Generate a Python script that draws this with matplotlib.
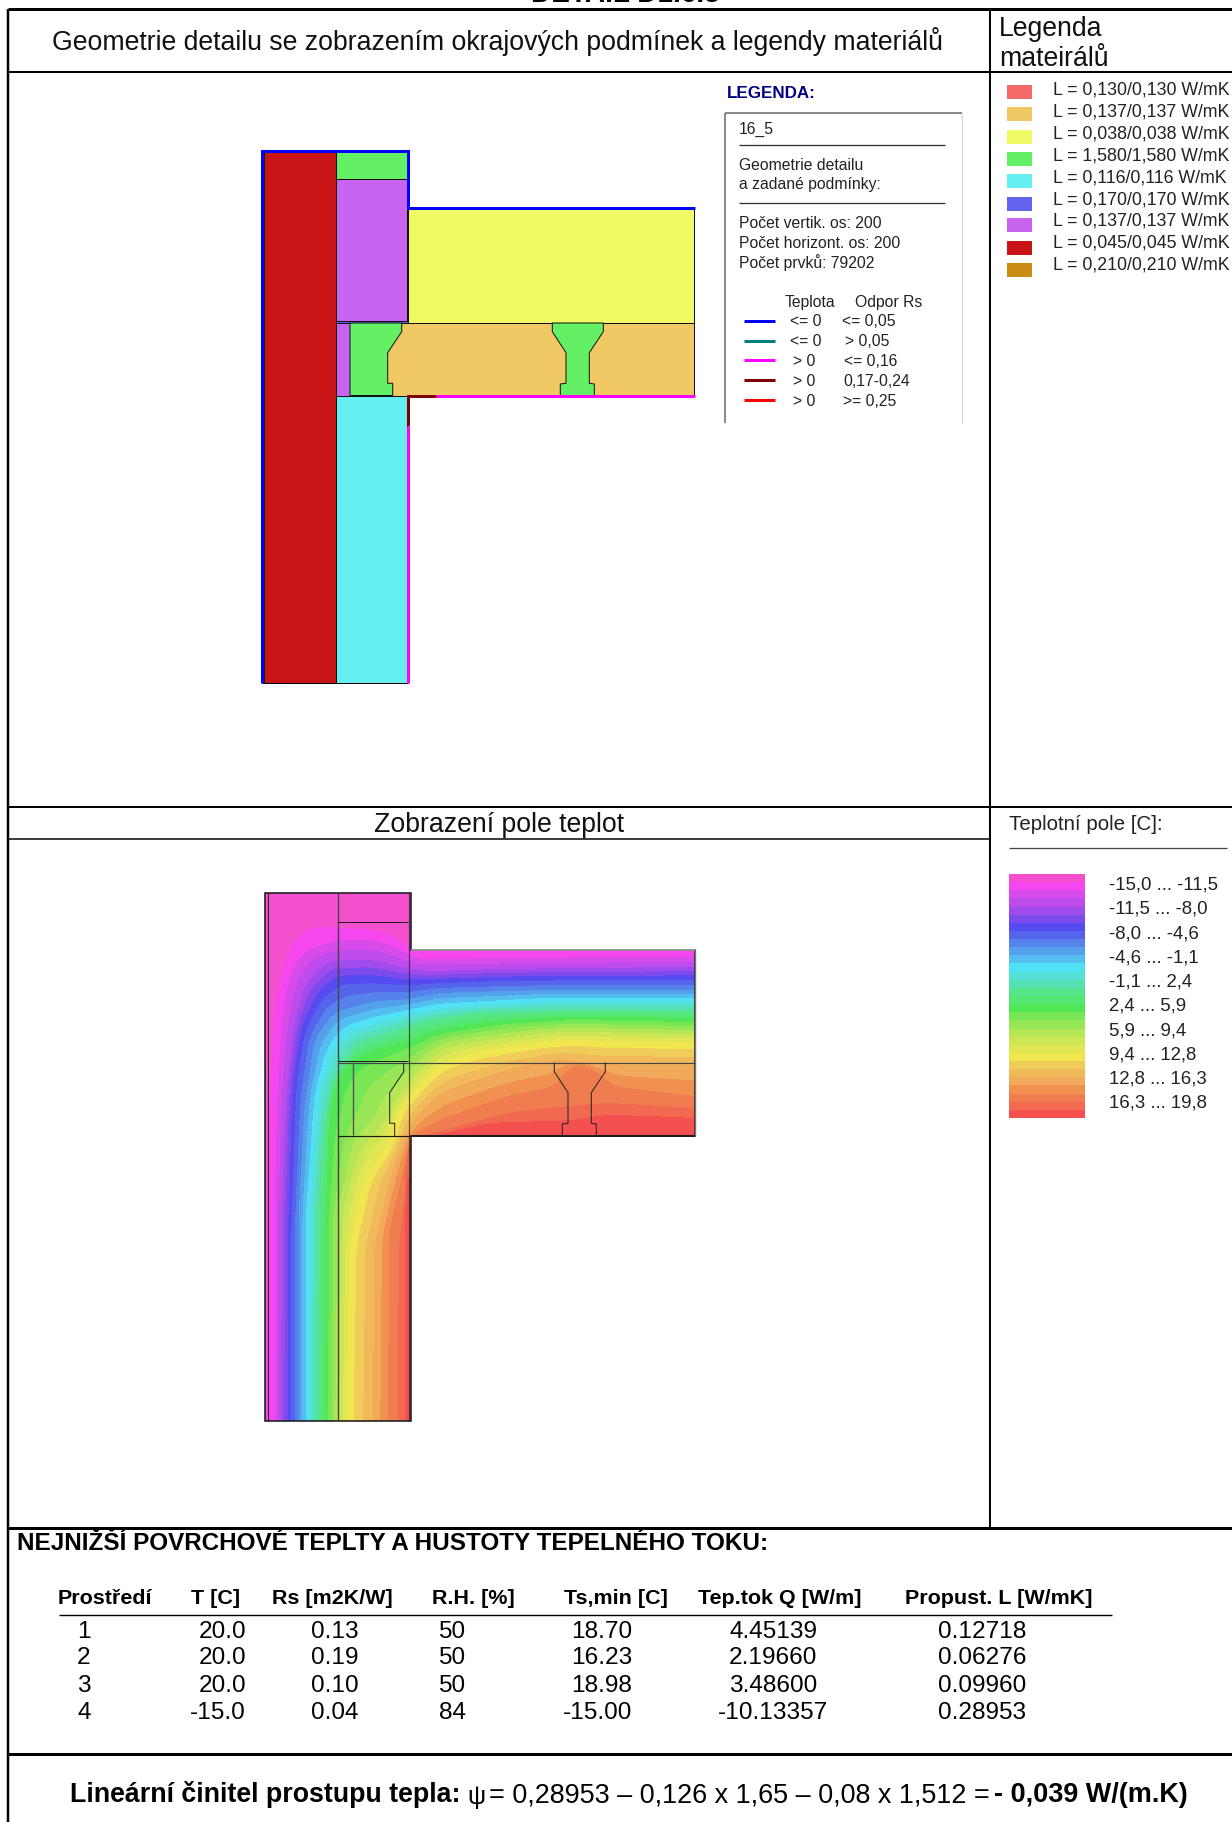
import numpy as np
import matplotlib
matplotlib.use("Agg")
import matplotlib.pyplot as plt
from matplotlib.patches import Polygon, Rectangle
from matplotlib.tri import Triangulation

plt.rcParams['font.family'] = ['Liberation Sans', 'DejaVu Sans']

W, H = 1232, 1822

# ---------- text content ----------
top_clip = "DETAIL D1.6.5"
title_geom = "Geometrie detailu se zobrazením okrajových podmínek a legendy materiálů"
title_mat = ["Legenda", "mateirálů"]
title_field = "Zobrazení pole teplot"
title_scale = "Teplotní pole [C]:"
mat_labels = ["L = 0,130/0,130 W/mK", "L = 0,137/0,137 W/mK", "L = 0,038/0,038 W/mK",
              "L = 1,580/1,580 W/mK", "L = 0,116/0,116 W/mK", "L = 0,170/0,170 W/mK",
              "L = 0,137/0,137 W/mK", "L = 0,045/0,045 W/mK", "L = 0,210/0,210 W/mK"]
mat_colors = ["#f56969", "#f0c864", "#f0fa64", "#64f064", "#64f0f0",
              "#6464f0", "#c864f0", "#c81414", "#c88c14"]
scale_labels = ["-15,0 ... -11,5", "-11,5 ... -8,0", "-8,0 ... -4,6", "-4,6 ... -1,1", "-1,1 ... 2,4",
                "2,4 ... 5,9", "5,9 ... 9,4", "9,4 ... 12,8", "12,8 ... 16,3", "16,3 ... 19,8"]
band_colors = [(243,80,205),(245,70,240),(215,75,235),(190,75,235),(160,75,235),(125,75,235),
               (85,75,240),(85,100,235),(85,130,235),(85,160,235),(85,190,240),(80,225,245),
               (85,225,215),(85,225,180),(85,230,140),(85,230,115),(80,230,85),(120,230,85),
               (150,230,85),(180,230,85),(205,230,85),(225,230,85),(240,230,80),(240,205,90),
               (240,185,90),(240,170,90),(240,145,80),(240,125,80),(240,105,80),(245,80,80)]
band_colors = [tuple(c/255 for c in b) for b in band_colors]

legend_info = ["Počet vertik. os: 200", "Počet horizont. os: 200", "Počet prvků: 79202"]
bc_colors = ["#0000ff", "#008080", "#ff00ff", "#800000", "#ff0000"]
bc_temp = ["<= 0", "<= 0", "> 0", "> 0", "> 0"]
bc_rs = ["<= 0,05", "> 0,05", "<= 0,16", "0,17-0,24", ">= 0,25"]

table_title = "NEJNIŽŠÍ POVRCHOVÉ TEPLTY A HUSTOTY TEPELNÉHO TOKU:"
headers = ["Prostředí", "T [C]", "Rs [m2K/W]", "R.H. [%]", "Ts,min [C]", "Tep.tok Q [W/m]", "Propust. L [W/mK]"]
env = ["1", "2", "3", "4"]
temp_c = ["20.0", "20.0", "20.0", "-15.0"]
rs = ["0.13", "0.19", "0.10", "0.04"]
rh = ["50", "50", "50", "84"]
ts_min = ["18.70", "16.23", "18.98", "-15.00"]
q_flow = ["4.45139", "2.19660", "3.48600", "-10.13357"]
prop_l = ["0.12718", "0.06276", "0.09960", "0.28953"]

# ---------- geometry of the detail (picture pixels) ----------
red_wall = [(264,152),(335.5,152),(335.5,683),(264,683)]
green_top = [(335.5,152),(407,152),(407,179),(335.5,179)]
purple_up = [(335.5,179),(407,179),(407,321),(335.5,321)]
blue_strip = [(335.5,321),(408,321),(408,323),(335.5,323)]
yellow_ins = [(408,209),(694,209),(694,323),(408,323)]
orange_floor = [(335.5,323),(694,323),(694,395.5),(335.5,395.5)]
purple_low = [(335.5,323),(350,323),(350,395.5),(335.5,395.5)]
green_low = [(350,323),(401.7,323),(401.7,331.7),(387.7,352.7),(387.7,383.3),(392.7,383.3),(392.7,395.5),(350,395.5)]
green_ibeam = [(552.3,323),(552.3,331.7),(566,352.7),(566,383.3),(560.3,384),(560.3,395.5),(594.3,395.5),
               (594.3,384),(589.3,383.3),(589.3,352.7),(603.3,331.7),(603.3,323)]
cyan_low = [(335.5,395.5),(407,395.5),(407,683),(335.5,683)]
blue_bc = [(262,683),(262,151),(408,151),(408,208),(695,208)]
darkred_bc = [(436,396),(408,396),(408,426)]
magenta_bc_a = [(436,396),(695,396)]
magenta_bc_b = [(408,426),(408,683)]

# outline of the field drawing
field_outline = [(265,893),(411,893),(411,950),(695,950),(695,1136),(411,1136),(411,1421),(265,1421)]

# ---------- temperature field: isotherms ----------
# band level, then (x, y) offsets in zoom units (3 per pixel), origin 240, 880
iso_levels = [0, 1, 2, 4, 6.6, 9, 11.5, 14, 16.4, 19.5, 22.4, 25, 27, 28, 29, 30]
iso_lines = [
 [(60,1620),(60,20),(530,20),(530,190),(1362,190)],
 [(80,1620),(82,1000),(88,700),(105,400),(125,280),(160,190),(220,140),(300,145),(400,150),(470,175),(505,205),(560,215),(800,215),(1362,215)],
 [(105,1620),(105,1000),(115,600),(130,400),(150,290),(190,215),(300,180),(400,180),(480,210),(530,240),(800,235),(1362,232)],
 [(125,1620),(127,1000),(140,650),(165,420),(200,310),(260,245),(400,240),(490,265),(560,275),(800,268),(1362,262)],
 [(150,1620),(150,1100),(165,620),(190,450),(240,350),(300,300),(400,300),(500,310),(600,305),(800,298),(1362,295)],
 [(178,1620),(178,1000),(195,680),(225,480),(280,400),(400,365),(500,360),(600,340),(900,332),(1362,330)],
 [(203,1620),(205,1000),(232,640),(270,510),(320,450),(400,425),(500,400),(600,380),(900,362),(1362,362)],
 [(232,1620),(235,1000),(255,720),(285,590),(350,490),(450,460),(550,425),(700,400),(1000,390),(1362,392)],
 [(258,1620),(262,1000),(270,760),(285,620),(330,550),(400,520),(510,490),(600,455),(800,425),(1000,415),(1362,420)],
 [(293,1620),(300,1000),(350,800),(430,720),(470,650),(510,590),(600,500),(700,480),(900,455),(1000,450),(1362,458)],
 [(325,1620),(335,1100),(380,900),(420,850),(460,790),(480,700),(520,650),(600,560),(700,525),(900,495),(1000,485),(1100,490),(1362,495)],
 [(400,1620),(405,1100),(450,900),(490,790),(520,720),(600,640),(800,570),(950,540),(1100,555),(1362,555)],
 [(445,1620),(450,1050),(490,880),(512,770),(600,720),(800,650),(950,620),(980,570),(1020,552),(1060,570),(1120,620),(1362,650)],
 [(475,1620),(478,1100),(500,900),(525,775),(640,745),(800,700),(980,680),(1100,670),(1362,685)],
 [(495,1620),(495,1050),(505,800),(600,765),(750,730),(1000,722),(1100,705),(1362,715)],
 [(530,1620),(530,790),(1362,790)],
]

# ---------- helpers ----------
fig = plt.figure(figsize=(W/100, H/100), dpi=100)
ax = fig.add_axes([0, 0, 1, 1])
ax.set_xlim(0, W); ax.set_ylim(H, 0); ax.axis('off')

def px(n):
    return n * 0.72

def T(x, y, s, size, ha='left', va='center', color='#111111', **kw):
    return ax.text(x, y, s, fontsize=px(size), ha=ha, va=va, color=color, **kw)

def line(x0, y0, x1, y1, lw=1, color='black', **kw):
    ax.plot([x0, x1], [y0, y1], color=color, lw=px(lw), solid_capstyle='butt', **kw)

def poly(pts, fc=None, ec='#111111', lw=1, z=2):
    ax.add_patch(Polygon(pts, closed=True, fc=fc if fc else 'none', ec=ec, lw=px(lw), zorder=z))

# ---------- frame ----------
T(625, 2, top_clip, 28, ha='center', va='baseline', weight='bold', color='black', clip_on=True)
line(8, 9, W, 9, 3)
line(8, 9, 8, H, 2.5)
line(990, 9, 990, 1528, 2)
line(8, 72, W, 72, 2)
line(8, 807, W, 807, 2)
line(8, 839, 990, 839, 1.5)
line(8, 1528, W, 1528, 3)
line(8, 1754, W, 1754, 3)

T(498, 42, title_geom, 26.6, ha='center')
T(999, 29, title_mat[0], 26.6)
T(999, 59, title_mat[1], 26.6)
T(499, 825, title_field, 26.6, ha='center')

# ---------- upper diagram ----------
for pts, c in [(red_wall, mat_colors[7]), (green_top, mat_colors[3]), (purple_up, mat_colors[6]),
               (blue_strip, mat_colors[5]), (yellow_ins, mat_colors[2]), (orange_floor, mat_colors[1]),
               (purple_low, mat_colors[6]), (green_low, mat_colors[3]), (green_ibeam, mat_colors[3]),
               (cyan_low, mat_colors[4])]:
    poly(pts, fc=c, lw=1)

def bc(pts, c, lw=3):
    xs, ys = zip(*pts)
    ax.plot(xs, ys, color=c, lw=px(lw), solid_joinstyle='miter', solid_capstyle='butt', zorder=4)

line(262, 683, 408, 683, 1, zorder=3)
bc(blue_bc, bc_colors[0])
bc(darkred_bc, bc_colors[3])
bc(magenta_bc_a, bc_colors[2])
bc(magenta_bc_b, bc_colors[2])

# ---------- legend box ----------
FS = 15.8
TXT = '#222222'
T(727, 94, "LEGENDA:", 17, color='#000080', weight='bold')
line(725, 113, 962, 113, 2, color='#8a8a8a')
line(725, 113, 725, 423, 2, color='#8a8a8a')
line(962, 113, 962, 423, 1, color='#d4d4d4')
T(739, 129, "16_5", FS, color=TXT)
line(739, 145, 945, 145, 1.3, color='#333333')
T(739, 165, "Geometrie detailu", FS, color=TXT)
T(739, 185, "a zadané podmínky:", FS, color=TXT)
line(739, 203, 945, 203, 1.3, color='#333333')
for y, s in zip([224, 244, 263], legend_info):
    T(739, y, s, FS, color=TXT)
T(785, 303, "Teplota", FS, color=TXT)
T(855, 303, "Odpor Rs", FS, color=TXT)
bc_y = [321, 341, 360, 380, 400]
bc_x1 = [790, 790, 793, 793, 793]
bc_x2 = [842, 845, 844, 843, 843]
for y, c, a, b, x1, x2 in zip(bc_y, bc_colors, bc_temp, bc_rs, bc_x1, bc_x2):
    line(744, y, 775, y, 3, color=c)
    T(x1, y + 1, a, FS, color=TXT)
    T(x2, y + 1, b, FS, color=TXT)

# ---------- material legend ----------
mat_y0 = [85, 107, 130, 152, 174, 197, 218, 241, 263]
mat_text_y = [90, 112, 134, 156, 178, 200, 221, 243, 265]
for y0, yt, c, s in zip(mat_y0, mat_text_y, mat_colors, mat_labels):
    ax.add_patch(Rectangle((1007, y0), 25, 14, fc=c, ec='none'))
    T(1053, yt, s, 17.7, color=TXT)

# ---------- temperature field ----------
def dense(pts, step=8, win=9):
    a = np.array(pts, float)
    a = np.vstack([[a[0, 0], a[0, 1] + 90], a, [a[-1, 0] + 120, a[-1, 1]]])
    d = np.r_[0, np.cumsum(np.hypot(*np.diff(a, axis=0).T))]
    s = np.linspace(0, d[-1], max(int(d[-1] / step), 2))
    x, y = np.interp(s, d, a[:, 0]), np.interp(s, d, a[:, 1])
    k = np.ones(win) / win
    xs = np.convolve(np.pad(x, win//2, mode='edge'), k, mode='valid')
    ys = np.convolve(np.pad(y, win//2, mode='edge'), k, mode='valid')
    return xs, ys

fx, fy, fz = [], [], []
for lev, ln in zip(iso_levels, iso_lines):
    xx, yy = dense(ln)
    fx.append(240 + xx / 3); fy.append(880 + yy / 3); fz.append(np.full(xx.shape, lev, float))
fx, fy, fz = map(np.concatenate, (fx, fy, fz))
tri = Triangulation(fx, fy)
cf = ax.tricontourf(tri, fz, levels=np.arange(0, 31), colors=band_colors, antialiased=False, zorder=1)
clip = Polygon(field_outline, closed=True, transform=ax.transData, fc='none', ec='none')
ax.add_patch(clip)
cf.set_clip_path(clip)

# outlines on the field
dk = '#1c1c1c'
DX, DY = 2, 740
poly(field_outline, ec=dk, lw=1.6, z=3)
line(411, 950, 695, 950, 1.6, color='#a8a8a8', zorder=3)
line(695, 950, 695, 1136, 1.4, color='#777777', zorder=3)
line(411, 1136, 695, 1136, 2, color=dk, zorder=3)
line(267.5, 893, 267.5, 1421, 1, color=dk, zorder=3)
line(408.5, 893, 408.5, 1421, 1.2, color=dk, zorder=3, alpha=0.7)
line(338, 893, 338, 1421, 1.4, color='#444444', zorder=3)
line(338, 921.5, 408, 921.5, 1, color=dk, zorder=3)
line(338, 1061, 408, 1061, 1, color=dk, zorder=3)
line(338, 1063, 695, 1063, 1.2, color='#444444', zorder=3)
line(338, 1135.5, 411, 1135.5, 1.2, color=dk, zorder=3)
line(353, 1063, 353, 1135, 1.4, color='#555555', zorder=3)
for shape in (green_low[1:-1], green_ibeam):
    xs = [p[0] + DX for p in shape]; ys = [p[1] + DY for p in shape]
    ax.plot(xs, ys, color='#222222', lw=px(1), zorder=3)

# colour scale
bar_y = np.linspace(874, 1118, len(band_colors) + 1)
for i, c in enumerate(band_colors):
    ax.add_patch(Rectangle((1009, bar_y[i]), 76, bar_y[i+1] - bar_y[i], fc=c, ec='none', lw=0))
T(1009, 825, title_scale, 20.5, color=TXT)
line(1009, 848, 1227, 848, 1.3, color='#444444')
scale_y = [885, 909, 934, 958, 982, 1006, 1031, 1055, 1079, 1103]
for y, s in zip(scale_y, scale_labels):
    T(1109, y, s, 18.6, color=TXT)

# ---------- table ----------
T(17, 1544, table_title, 24.2, weight='bold', color='black')
hdr_x = [58, 191, 272, 432, 564, 698, 905]
for x, s in zip(hdr_x, headers):
    T(x, 1598, s, 21.5, weight='bold', color='black')
line(59, 1615, 1112, 1615, 1.4)
row_y = [1632, 1658, 1686, 1713]
for i, y in enumerate(row_y):
    T(84, y, env[i], 24.4, ha='center', color='black')
    T(246, y, temp_c[i], 24.4, ha='right', color='black')
    T(335, y, rs[i], 24.4, ha='center', color='black')
    T(452, y, rh[i], 24.4, ha='center', color='black')
    T(632, y, ts_min[i], 24.4, ha='right', color='black')
    T(773, y, q_flow[i], 24.4, ha='center', color='black')
    T(982, y, prop_l[i], 24.4, ha='center', color='black')

# ---------- formula ----------
FY = 1795
T(70, FY, "Lineární činitel prostupu tepla:", 26.7, weight='bold', color='black')
T(467, FY + 2, "ψ", 25.5, color='black')
T(489, FY, "= 0,28953 – 0,126 x 1,65 – 0,08 x 1,512 =", 27, color='black')
T(994, FY, "- 0,039 W/(m.K)", 27, weight='bold', color='black')

fig.savefig("out.png", dpi=100, facecolor='white')
